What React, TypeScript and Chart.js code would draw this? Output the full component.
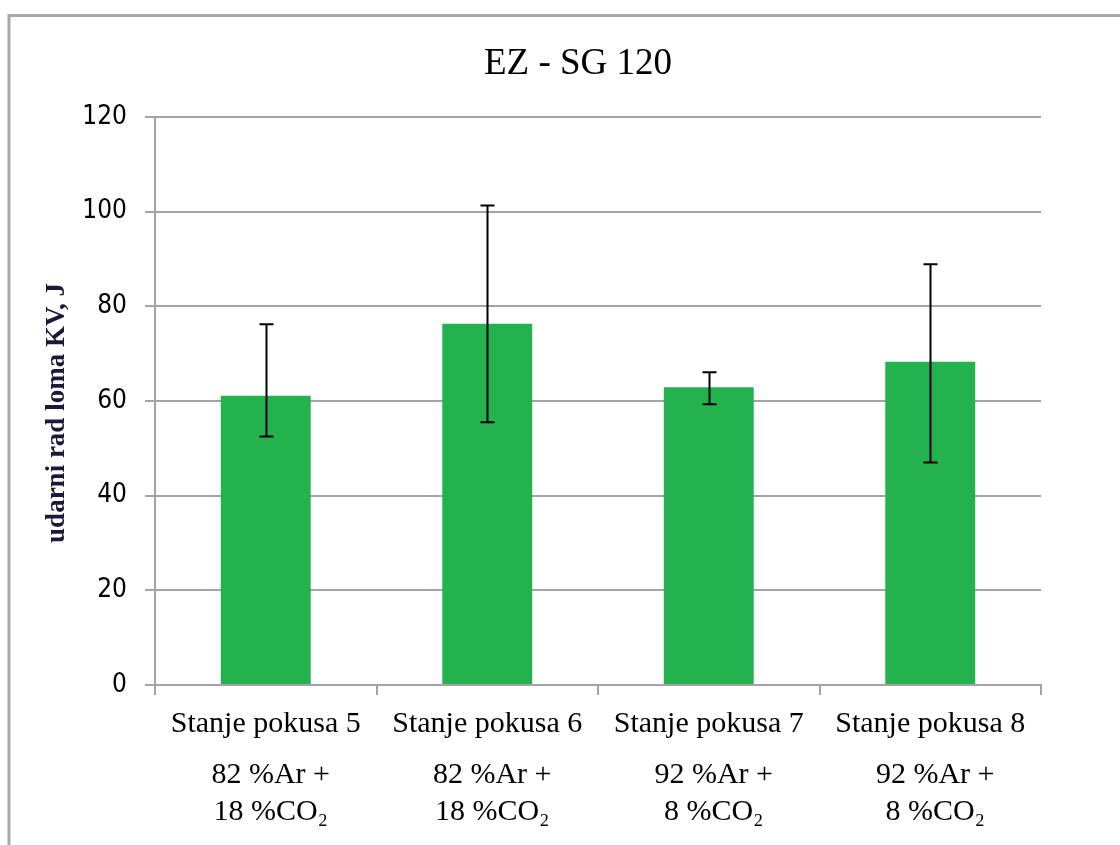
import React, { useEffect, useRef } from "react";
import { Chart, registerables } from "chart.js";

Chart.register(...registerables);

const chartTitle = "EZ - SG 120";
const yAxisTitle = "udarni rad loma KV, J";
const categories = ["Stanje pokusa 5", "Stanje pokusa 6", "Stanje pokusa 7", "Stanje pokusa 8"];
const gasLine1 = ["82 %Ar +", "82 %Ar +", "92 %Ar +", "92 %Ar +"];
const gasLine2 = ["18 %CO\u2082", "18 %CO\u2082", "8 %CO\u2082", "8 %CO\u2082"];
const meanValues = [61.1, 76.3, 62.9, 68.3];
const errorHigh = [76.2, 101.3, 66.1, 88.9];
const errorLow = [52.5, 55.5, 59.3, 47.0];
const yMin = 0;
const yMax = 120;
const yStep = 20;

const SERIF = "'Liberation Serif', 'Times New Roman', serif";
const GRID = "#a3a3a3";

const framePlugin = {
  id: "frame",
  beforeDraw(chart: any) {
    const ctx = chart.ctx;
    ctx.save();
    ctx.fillStyle = "#ffffff";
    ctx.fillRect(0, 0, chart.width, chart.height);
    ctx.strokeStyle = "#a8a8a8";
    ctx.lineWidth = 3;
    ctx.strokeRect(9, 15.5, chart.width + 50, chart.height + 50);
    ctx.restore();
  },
};

const errorBarPlugin = {
  id: "errorBars",
  afterDatasetsDraw(chart: any) {
    const ctx = chart.ctx;
    const meta = chart.getDatasetMeta(0);
    const y = chart.scales.y;
    ctx.save();
    ctx.strokeStyle = "#000000";
    ctx.lineWidth = 2;
    meta.data.forEach((bar: any, i: number) => {
      const x = Math.round(bar.x) + 0.5;
      const yt = y.getPixelForValue(errorHigh[i]);
      const yb = y.getPixelForValue(errorLow[i]);
      ctx.beginPath();
      ctx.moveTo(x, yt);
      ctx.lineTo(x, yb);
      ctx.moveTo(x - 7, yt);
      ctx.lineTo(x + 7, yt);
      ctx.moveTo(x - 7, yb);
      ctx.lineTo(x + 7, yb);
      ctx.stroke();
    });
    ctx.restore();
  },
};

const textPlugin = {
  id: "texts",
  afterDraw(chart: any) {
    const ctx = chart.ctx;
    const xs = chart.scales.x;
    ctx.save();
    ctx.fillStyle = "#000000";
    ctx.textAlign = "center";
    ctx.textBaseline = "alphabetic";
    ctx.font = `37px ${SERIF}`;
    ctx.fillText(chartTitle, 578, 74);

    ctx.font = `30px ${SERIF}`;
    categories.forEach((_, i) => {
      const cx = xs.getPixelForValue(i) + 5;
      ctx.fillText(gasLine1[i], cx, 783);
      ctx.fillText(gasLine2[i], cx, 820);
    });

    ctx.translate(64, 413);
    ctx.rotate(-Math.PI / 2);
    ctx.fillStyle = "#1a1a38";
    ctx.font = `bold 27px ${SERIF}`;
    ctx.textBaseline = "alphabetic";
    ctx.fillText(yAxisTitle, 0, 0);
    ctx.restore();
  },
};

export default function App() {
  const ref = useRef<HTMLCanvasElement | null>(null);
  useEffect(() => {
    if (!ref.current) return;
    const chart = new Chart(ref.current, {
      type: "bar",
      data: {
        labels: categories,
        datasets: [
          {
            data: meanValues,
            backgroundColor: "#24b24e",
            borderWidth: 0,
            categoryPercentage: 1,
            barPercentage: 0.406,
          },
        ],
      },
      options: {
        responsive: false,
        animation: false,
        layout: { padding: { left: 0, right: 79, top: 117, bottom: 0 } },
        plugins: {
          legend: { display: false },
          title: { display: false },
          tooltip: { enabled: false },
        },
        scales: {
          x: {
            afterFit: (s: any) => {
              s.height = 160;
            },
            grid: {
              offset: true,
              drawOnChartArea: false,
              drawTicks: true,
              tickLength: 10,
              color: GRID,
              lineWidth: 2,
            },
            border: { display: true, color: GRID, width: 2 },
            ticks: {
              color: "#000000",
              padding: 11,
              maxRotation: 0,
              autoSkip: false,
              font: { family: SERIF, size: 30 },
            },
          },
          y: {
            min: yMin,
            max: yMax,
            afterFit: (s: any) => {
              s.width = 155;
            },
            grid: {
              color: GRID,
              lineWidth: 2,
              tickLength: 10,
            },
            border: { display: true, color: GRID, width: 2 },
            ticks: {
              stepSize: yStep,
              color: "#000000",
              padding: 18,
              font: { family: "'DejaVu Sans Condensed', 'DejaVu Sans', sans-serif", size: 26 },
            },
          },
        },
      },
      plugins: [framePlugin, errorBarPlugin, textPlugin],
    });
    return () => chart.destroy();
  }, []);
  return (
    <div style={{ position: "fixed", left: 0, top: 0, width: 1120, height: 845 }}>
      <canvas ref={ref} width={1120} height={845} />
    </div>
  );
}
